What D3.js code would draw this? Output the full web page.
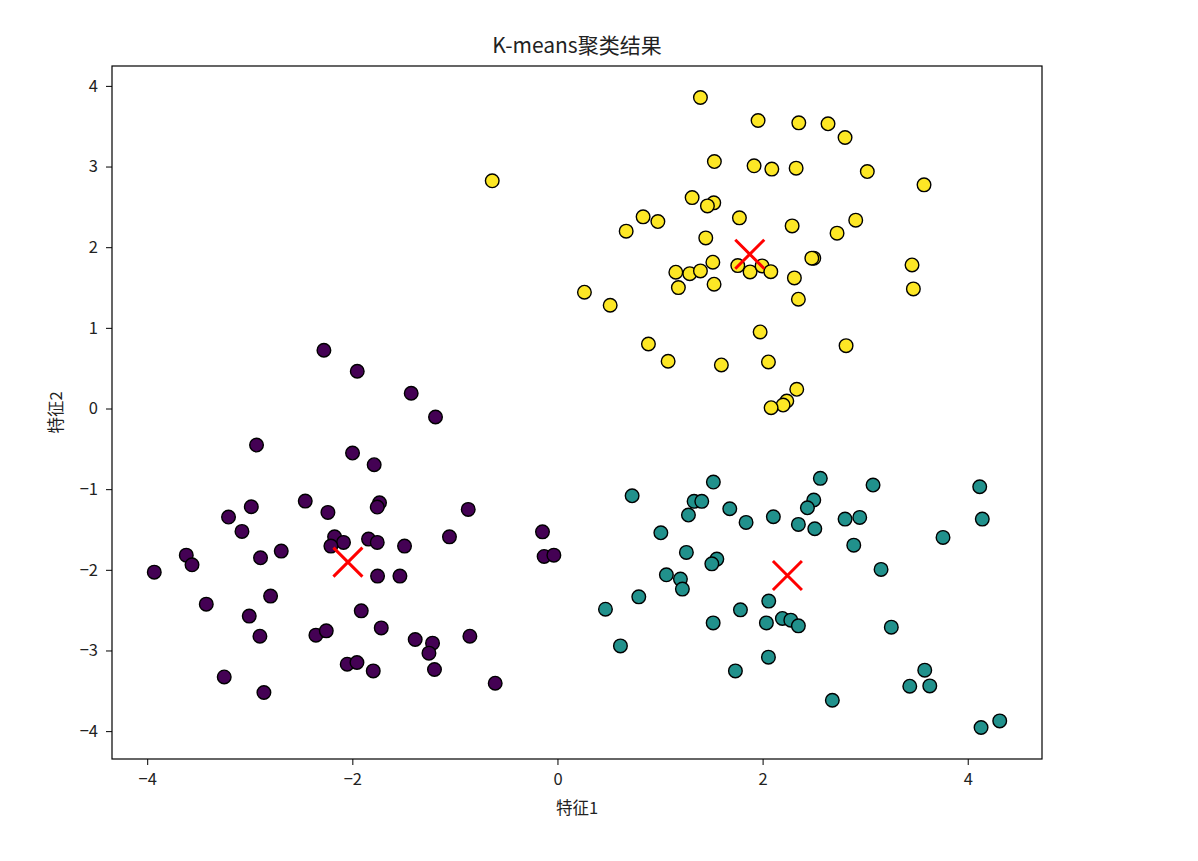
<!DOCTYPE html>
<html>
<head>
<meta charset="utf-8">
<script src="https://cdn.jsdelivr.net/npm/d3@7"></script>
<style>
  body { margin: 0; background: #fff; }
  text { font-family: "Noto Sans CJK SC", "DejaVu Sans", sans-serif; fill: #222; }
  .axis path, .axis line { stroke: #000; }
</style>
</head>
<body>
<svg class="chart"></svg>
<script>
// points of each cluster, [feature1, feature2]
const cluster0 = [
  [-2.277, 0.722], [-1.952, 0.462], [-1.426, 0.189], [-1.189, -0.105], [-2.934, -0.453],
  [-1.998, -0.552], [-1.787, -0.697], [-2.459, -1.148], [-2.985, -1.218], [-2.238, -1.288],
  [-1.735, -1.169], [-1.757, -1.222], [-0.870, -1.251], [-3.207, -1.346], [-3.076, -1.524],
  [-0.146, -1.529], [-1.053, -1.591], [-2.173, -1.591], [-2.086, -1.660], [-2.209, -1.706],
  [-1.842, -1.619], [-1.757, -1.660], [-1.491, -1.706], [-3.619, -1.818], [-3.563, -1.938],
  [-3.931, -2.029], [-2.895, -1.851], [-2.693, -1.768], [-0.130, -1.834], [-0.035, -1.818],
  [-1.754, -2.078], [-1.536, -2.078], [-2.797, -2.326], [-3.424, -2.426], [-1.913, -2.509],
  [-3.005, -2.574], [-1.718, -2.720], [-2.901, -2.823], [-2.355, -2.810], [-2.254, -2.757],
  [-1.387, -2.864], [-1.218, -2.909], [-1.253, -3.033], [-0.854, -2.823], [-2.050, -3.170],
  [-1.955, -3.149], [-1.796, -3.253], [-1.199, -3.236], [-3.249, -3.328], [-2.862, -3.521],
  [-0.607, -3.406]
]
const cluster1 = [
  [1.520, -0.912], [2.563, -0.866], [3.077, -0.949], [4.117, -0.970], [0.728, -1.082],
  [1.332, -1.151], [1.407, -1.151], [2.499, -1.135], [2.437, -1.231], [1.680, -1.243],
  [1.277, -1.321], [2.105, -1.342], [1.839, -1.412], [2.349, -1.437], [2.509, -1.491],
  [2.804, -1.371], [2.947, -1.350], [4.142, -1.371], [1.008, -1.541], [2.889, -1.694],
  [3.759, -1.598], [1.257, -1.784], [1.554, -1.867], [1.505, -1.926], [3.155, -1.995],
  [1.062, -2.062], [1.199, -2.115], [1.218, -2.239], [0.793, -2.335], [0.468, -2.488],
  [2.060, -2.388], [1.784, -2.496], [1.518, -2.658], [2.037, -2.658], [2.193, -2.603],
  [2.275, -2.624], [2.349, -2.695], [3.255, -2.711], [0.614, -2.943], [2.057, -3.083],
  [1.735, -3.253], [3.581, -3.244], [3.435, -3.443], [3.630, -3.439], [2.680, -3.617],
  [4.130, -3.955], [4.312, -3.873]
]
const cluster2 = [
  [1.394, 3.856], [1.956, 3.571], [2.353, 3.542], [2.638, 3.530], [2.804, 3.360],
  [1.530, 3.062], [1.917, 3.009], [2.090, 2.968], [2.327, 2.980], [3.021, 2.938],
  [3.574, 2.773], [1.313, 2.615], [1.524, 2.550], [1.462, 2.512], [0.835, 2.376],
  [0.979, 2.318], [0.670, 2.199], [1.774, 2.364], [2.288, 2.264], [2.908, 2.335],
  [2.726, 2.174], [1.446, 2.115], [1.515, 1.814], [1.758, 1.772], [1.878, 1.694],
  [1.995, 1.768], [2.080, 1.697], [2.499, 1.864], [2.480, 1.864], [1.154, 1.690],
  [1.290, 1.672], [1.394, 1.706], [2.310, 1.619], [3.457, 1.780], [1.179, 1.499],
  [1.527, 1.541], [2.349, 1.355], [3.470, 1.483], [0.263, 1.442], [0.514, 1.280],
  [1.976, 0.949], [0.887, 0.800], [2.814, 0.779], [1.079, 0.586], [1.598, 0.540],
  [2.057, 0.577], [2.333, 0.238], [2.236, 0.093], [2.200, 0.043], [2.083, 0.010],
  [-0.636, 2.823]
]
const centroids = [[-2.043, -1.904], [2.242, -2.070], [1.875, 1.913]]
const xTicks = [-4, -2, 0, 2, 4]
const yTicks = [-4, -3, -2, -1, 0, 1, 2, 3, 4]

const width = 1198
const height = 861
const margin = { top: 66, right: 156, bottom: 102, left: 112 }

const points = [cluster0, cluster1, cluster2]
  .flatMap((pts, label) => pts.map(p => ({ x: p[0], y: p[1], label })))

// matplotlib-style 5% padding round the data
const padded = (ext) => {
  const pad = (ext[1] - ext[0]) * 0.05
  return [ext[0] - pad, ext[1] + pad]
}

const xScale = d3.scaleLinear()
  .domain(padded(d3.extent(points, d => d.x)))
  .range([margin.left, width - margin.right])

const yScale = d3.scaleLinear()
  .domain(padded(d3.extent(points, d => d.y)))
  .range([height - margin.bottom, margin.top])

const colour = d3.scaleSequential(d3.interpolateViridis).domain([0, 2])

const chart = d3.select('.chart')
  .attr('width', width)
  .attr('height', height)

chart.append('g').attr('class', 'points')
  .selectAll('circle')
  .data(points)
  .enter()
  .append('circle')
  .attr('cx', d => xScale(d.x))
  .attr('cy', d => yScale(d.y))
  .attr('r', 6.8)
  .attr('fill', d => colour(d.label))
  .attr('stroke', '#000')
  .attr('stroke-width', 1.4)

const xSize = 14.5
chart.append('g').attr('class', 'centroids')
  .selectAll('path')
  .data(centroids)
  .enter()
  .append('path')
  .attr('d', c => {
    const cx = xScale(c[0])
    const cy = yScale(c[1])
    return `M${cx - xSize},${cy - xSize}L${cx + xSize},${cy + xSize}M${cx - xSize},${cy + xSize}L${cx + xSize},${cy - xSize}`
  })
  .attr('stroke', '#ff0000')
  .attr('stroke-width', 3)
  .attr('fill', 'none')

const fmt = d => d3.format('d')(d).replace('-', '\u2212')

chart.append('g').attr('class', 'axis')
  .attr('transform', `translate(0,${height - margin.bottom})`)
  .call(d3.axisBottom(xScale).tickValues(xTicks).tickFormat(fmt).tickSize(6).tickPadding(8))
  .call(g => g.select('.domain').remove())
  .selectAll('text').style('font-size', '16.5px').attr('fill', '#222')

chart.append('g').attr('class', 'axis')
  .attr('transform', `translate(${margin.left},0)`)
  .call(d3.axisLeft(yScale).tickValues(yTicks).tickFormat(fmt).tickSize(6).tickPadding(8))
  .call(g => g.select('.domain').remove())
  .selectAll('text').style('font-size', '16.5px').attr('fill', '#222')

chart.append('rect')
  .attr('x', margin.left)
  .attr('y', margin.top)
  .attr('width', width - margin.left - margin.right)
  .attr('height', height - margin.top - margin.bottom)
  .attr('fill', 'none')
  .attr('stroke', '#000')
  .attr('stroke-width', 1.2)

const midX = (margin.left + width - margin.right) / 2
const midY = (margin.top + height - margin.bottom) / 2

chart.append('text')
  .attr('x', midX)
  .attr('y', 53)
  .attr('text-anchor', 'middle')
  .style('font-size', '21px')
  .text('K-means聚类结果')

chart.append('text')
  .attr('x', midX)
  .attr('y', 814)
  .attr('text-anchor', 'middle')
  .style('font-size', '16.5px')
  .text('特征1')

chart.append('text')
  .attr('transform', `translate(62,${midY}) rotate(-90)`)
  .attr('text-anchor', 'middle')
  .style('font-size', '16.5px')
  .text('特征2')
</script>
</body>
</html>
